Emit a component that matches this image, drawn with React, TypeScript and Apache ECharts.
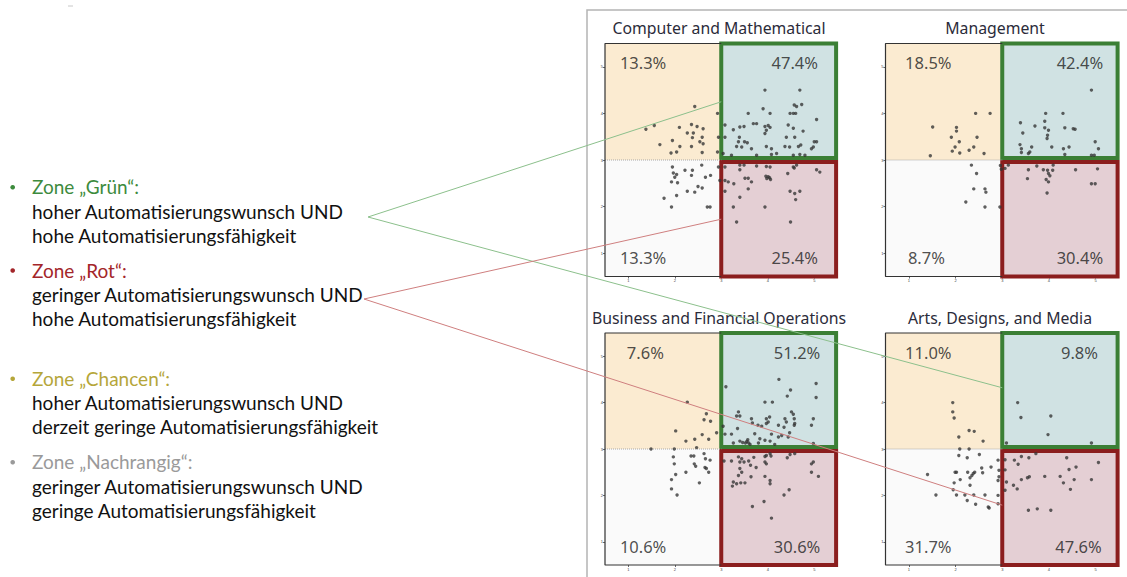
import React, { useEffect, useRef } from "react";
import * as echarts from "echarts";

// ---------------- data ----------------
const panelTitles = [
  "Computer and Mathematical",
  "Management",
  "Business and Financial Operations",
  "Arts, Designs, and Media",
];

// quadrant shares: [top-left, top-right, bottom-left, bottom-right]
const quadrantShares = [
  ["13.3%", "47.4%", "13.3%", "25.4%"],
  ["18.5%", "42.4%", "8.7%", "30.4%"],
  ["7.6%", "51.2%", "10.6%", "30.6%"],
  ["11.0%", "9.8%", "31.7%", "47.6%"],
];

const tickValues = [1, 2, 3, 4, 5];

const compMathPoints = [
  [2.43, 4.15], [1.38, 3.66], [1.56, 3.74], [2.1, 3.7], [2.36, 3.76], [2.48, 3.72], [2.61, 3.67], [1.68, 3.33],
  [1.95, 3.42], [2.27, 3.58], [2.4, 3.58], [2.38, 3.48], [2.59, 3.49], [2.54, 3.39], [2.61, 3.35], [2.11, 3.29],
  [2.36, 3.29], [1.92, 3.15], [2.04, 3.17], [2.59, 3.16], [2.92, 4.0], [2.94, 3.49], [2.92, 3.17],
  [3.94, 4.5], [4.69, 4.5], [4.57, 4.18], [4.62, 4.15], [4.73, 4.19], [3.9, 4.1], [3.58, 4.0], [4.05, 4.0],
  [4.48, 4.0], [4.55, 4.0], [4.6, 4.0], [5.05, 3.87], [3.08, 3.75], [3.26, 3.65], [3.4, 3.71], [3.49, 3.72],
  [3.69, 3.78], [3.76, 3.78], [3.94, 3.72], [4.01, 3.74], [4.05, 3.7], [3.97, 3.64], [4.44, 3.75], [4.55, 3.68],
  [4.76, 3.62], [3.08, 3.49], [3.39, 3.49], [3.94, 3.57], [4.4, 3.49], [4.58, 3.49], [5.0, 3.39], [5.05, 3.39],
  [3.37, 3.39], [3.5, 3.39], [3.56, 3.37], [3.33, 3.29], [3.44, 3.28], [3.65, 3.24], [3.97, 3.29], [4.08, 3.24],
  [4.37, 3.29], [4.47, 3.28], [4.66, 3.29], [4.71, 3.32], [4.94, 3.24], [4.98, 3.28], [3.04, 3.14], [3.22, 3.1],
  [3.76, 3.1], [4.08, 3.12], [4.19, 3.14], [4.55, 3.1], [4.69, 3.12], [4.8, 3.1],
  [1.95, 2.85], [2.58, 2.89], [1.97, 2.72], [2.04, 2.69], [2.0, 2.63], [2.22, 2.78], [2.38, 2.78], [2.36, 2.67],
  [2.66, 2.63], [2.77, 2.67], [1.93, 2.53], [2.06, 2.51], [2.5, 2.43], [2.59, 2.4], [2.27, 2.33], [2.43, 2.31],
  [2.04, 2.24], [1.77, 2.18], [1.93, 1.99], [2.7, 1.99], [2.76, 1.99], [2.94, 2.85], [2.97, 2.56],
  [3.08, 2.85], [3.4, 2.89], [3.49, 2.89], [3.76, 2.87], [3.97, 2.86], [4.05, 2.85], [4.55, 2.85], [4.62, 2.89],
  [5.05, 2.79], [5.12, 2.74], [3.08, 2.56], [3.15, 2.53], [3.27, 2.49], [3.4, 2.79], [3.51, 2.61], [3.58, 2.61],
  [3.65, 2.53], [3.96, 2.65], [4.01, 2.64], [4.04, 2.62], [3.98, 2.6], [4.06, 2.58], [4.43, 2.71], [4.57, 2.83],
  [3.08, 2.33], [3.4, 2.2], [3.58, 2.38], [3.26, 1.99], [3.94, 1.99], [4.48, 2.33], [4.58, 2.28], [4.69, 2.33],
  [4.6, 2.15], [3.33, 1.67], [4.49, 1.67],
];

const managementPoints = [
  [1.51, 3.71], [2.02, 3.7], [2.02, 3.62], [1.91, 3.49], [2.08, 3.39], [1.99, 3.28], [1.93, 3.19], [2.09, 3.15],
  [2.29, 3.21], [2.39, 3.28], [2.46, 3.49], [2.43, 4.0], [2.74, 4.0], [1.46, 3.09], [2.61, 3.14],
  [4.91, 4.5], [3.93, 4.0], [4.3, 4.0], [3.39, 3.8], [3.7, 3.73], [3.91, 3.83], [3.91, 3.69], [3.99, 3.64],
  [3.97, 3.53], [3.96, 3.46], [4.34, 3.69], [4.52, 3.67], [4.56, 3.66], [3.44, 3.58], [4.99, 3.39], [5.06, 3.24],
  [3.38, 3.33], [3.41, 3.24], [3.63, 3.28], [4.06, 3.28], [4.31, 3.24], [4.43, 3.28], [3.41, 3.16], [3.56, 3.14],
  [3.59, 3.17], [4.34, 3.12], [4.91, 3.1], [4.97, 3.1],
  [2.34, 2.89], [2.45, 2.71], [2.39, 2.38], [2.63, 2.38], [2.65, 2.31], [2.22, 2.1], [2.63, 1.99], [2.95, 1.99],
  [2.96, 2.88], [2.98, 2.8],
  [3.13, 2.89], [3.56, 2.79], [3.54, 2.6], [3.88, 2.79], [3.97, 2.78], [3.99, 2.71], [4.02, 2.66], [4.09, 2.89],
  [4.08, 2.78], [3.94, 2.58], [3.99, 2.53], [3.96, 2.29], [3.74, 2.87], [4.57, 2.79], [5.04, 2.81], [4.91, 2.49],
  [4.99, 2.49], [3.06, 2.82],
];

const businessPoints = [
  [2.27, 4.01], [2.68, 3.76], [2.63, 3.63], [2.77, 3.6], [2.02, 3.39], [2.24, 3.17], [2.43, 3.21], [2.59, 3.31],
  [2.73, 3.21], [2.9, 3.35], [1.49, 3.0], [1.99, 3.0], [2.47, 3.03],
  [3.1, 4.34], [4.24, 4.5], [5.04, 4.41], [5.04, 4.11], [4.49, 4.27], [4.42, 4.14], [3.94, 4.01], [4.1, 4.01],
  [3.37, 3.8], [3.4, 3.71], [3.33, 3.71], [3.65, 3.65], [3.67, 3.56], [3.79, 3.51], [3.87, 3.49], [3.97, 3.65],
  [4.01, 3.58], [3.97, 3.55], [4.04, 3.69], [4.23, 3.51], [4.37, 3.65], [4.4, 3.58], [4.35, 3.47], [4.51, 3.8],
  [4.55, 3.75], [4.57, 3.65], [4.58, 3.55], [4.57, 3.51], [4.98, 3.65], [4.94, 3.51], [3.04, 3.49], [3.35, 3.44],
  [3.08, 3.32], [3.22, 3.32], [3.4, 3.17], [3.46, 3.14], [3.52, 3.13], [3.59, 3.13], [3.57, 3.2], [3.72, 3.33],
  [3.83, 3.22], [3.94, 3.19], [4.05, 3.17], [4.08, 3.32], [4.23, 3.26], [4.3, 3.29], [4.44, 3.26], [4.47, 3.35],
  [4.98, 3.12], [3.8, 3.13], [3.26, 3.13], [3.55, 3.16], [3.62, 3.1], [4.15, 3.1],
  [1.97, 2.83], [1.99, 2.68], [2.35, 2.85], [2.41, 2.85], [2.42, 2.68], [2.45, 2.63], [2.63, 2.9], [2.66, 2.79],
  [2.76, 2.76], [2.65, 2.6], [2.68, 2.58], [2.73, 2.5], [2.24, 2.5], [2.02, 2.45], [1.93, 2.34], [1.93, 2.14],
  [2.05, 2.01], [2.53, 2.27],
  [3.06, 2.74], [3.22, 2.74], [3.4, 2.72], [3.49, 2.72], [3.59, 2.74], [3.63, 2.65], [3.37, 2.83], [3.44, 2.79],
  [3.94, 2.84], [3.97, 2.86], [4.05, 2.9], [4.07, 2.85], [3.94, 2.72], [3.97, 2.68], [4.48, 2.88], [4.58, 2.9],
  [4.42, 2.81], [4.94, 2.68], [4.98, 2.72], [5.09, 2.41], [4.94, 2.5], [3.4, 2.58], [3.44, 2.5], [3.37, 2.43],
  [3.26, 2.29], [3.33, 2.25], [3.42, 2.27], [3.51, 2.27], [3.24, 2.2], [3.64, 2.4], [3.94, 2.41], [4.05, 2.32],
  [4.05, 2.25], [4.35, 2.01], [4.46, 2.12], [3.92, 1.87], [3.67, 1.76], [4.08, 1.51], [3.75, 2.6], [3.7, 2.82],
];

const artsPoints = [
  [1.94, 4.0], [1.94, 3.8], [1.97, 3.67], [2.29, 3.4], [2.4, 3.38], [2.07, 3.26], [2.59, 3.17], [2.09, 3.0],
  [2.29, 3.0],
  [3.33, 4.0], [3.4, 3.68], [4.04, 3.71], [3.98, 3.31], [3.09, 3.13], [4.91, 3.13],
  [2.07, 2.86], [2.25, 2.81], [2.51, 2.88], [2.76, 2.61], [2.56, 2.59], [2.58, 2.49], [1.4, 2.45], [1.99, 2.5],
  [2.02, 2.5], [2.26, 2.5], [2.38, 2.47], [2.35, 2.43], [2.31, 2.38], [2.41, 2.5], [2.1, 2.34], [1.97, 2.27],
  [2.31, 2.22], [1.95, 2.12], [2.02, 2.01], [1.58, 2.01], [2.2, 2.01], [2.39, 2.01], [2.63, 2.01], [2.25, 1.89],
  [2.43, 1.81], [2.7, 1.75], [2.72, 1.73], [2.91, 2.76], [2.93, 2.54], [2.93, 2.4], [2.91, 2.32], [2.91, 2.0],
  [2.91, 1.82],
  [3.06, 2.77], [3.26, 2.76], [3.34, 2.67], [3.41, 2.84], [3.57, 2.81], [3.72, 2.9], [3.09, 2.29], [3.24, 2.22],
  [3.32, 2.14], [3.41, 2.34], [3.54, 2.38], [3.58, 2.4], [3.06, 2.11], [3.91, 2.41], [4.24, 2.41], [4.31, 2.27],
  [4.43, 2.56], [4.58, 2.61], [4.38, 2.81], [4.54, 2.34], [4.46, 2.13], [4.91, 2.34], [5.06, 2.71], [3.56, 1.68],
  [3.75, 1.71], [4.04, 1.68], [3.06, 2.55],
];

const panelPoints = [compMathPoints, managementPoints, businessPoints, artsPoints];

const zoneTitles = ["Zone „Grün“:", "Zone „Rot“:", "Zone „Chancen“:", "Zone „Nachrangig“:"];
const zoneLines = [
  ["hoher Automatisierungswunsch UND", "hohe Automatisierungsfähigkeit"],
  ["geringer Automatisierungswunsch UND", "hohe Automatisierungsfähigkeit"],
  ["hoher Automatisierungswunsch UND", "derzeit geringe Automatisierungsfähigkeit"],
  ["geringer Automatisierungswunsch UND", "geringe Automatisierungsfähigkeit"],
];

// ---------------- layout / style ----------------
const GRIDS = [
  { left: 605, top: 43.5, width: 232.5, height: 233 },
  { left: 885.5, top: 43.5, width: 233.5, height: 233 },
  { left: 605, top: 333, width: 232.5, height: 232 },
  { left: 885.5, top: 333, width: 233.5, height: 232 },
];
const TITLE_POS = [[719, 28], [995, 28], [719, 318], [1000, 318]];
// x positions (data units) of the share labels: [TL, TR, BL, BR]
const LABEL_X = [
  [0.82, 5.08, 0.82, 5.08],
  [0.92, 5.16, 0.98, 5.16],
  [0.97, 5.13, 0.82, 5.13],
  [0.92, 5.05, 0.92, 5.13],
];
const LABEL_Y_TOP = 5.09;
const LABEL_Y_BOTTOM = 0.9;
const ZONE_COLORS = ["#3d8b3d", "#a3262a", "#b5a63a", "#9a9a9a"];
const ZONE_Y = [186.7, 270, 378.3, 461.7];
const LINE_GAP = 24.3;

const C_ORANGE = "#fbebd1";
const C_GREY = "#fafafa";
const C_BLUE = "#d0e2e3";
const C_PINK = "#e4cfd4";
const C_GREEN = "#3b7f35";
const C_RED = "#8b1e1e";

function buildOption() {
  const grid = GRIDS.map((g) => ({ ...g, show: false, containLabel: false }));
  const axisCommon = {
    type: "value",
    min: 0.5,
    max: 5.5,
    splitLine: { show: false },
    axisLine: { show: false },
    axisTick: { show: true, length: 2, customValues: tickValues, lineStyle: { color: "#444", width: 0.8 } },
    axisLabel: { show: true, fontSize: 4, color: "#444", margin: 2, customValues: tickValues },
  };
  const xAxis = GRIDS.map((_, i) => ({ ...axisCommon, gridIndex: i }));
  const yAxis = GRIDS.map((_, i) => ({ ...axisCommon, gridIndex: i }));

  const series: any[] = [];
  panelPoints.forEach((pts, i) => {
    series.push({
      type: "scatter",
      xAxisIndex: i,
      yAxisIndex: i,
      data: pts,
      symbolSize: 3.4,
      itemStyle: { color: "#333", opacity: 0.78 },
      silent: true,
      clip: false,
      z: 3,
      markArea: {
        silent: true,
        data: [
          [{ xAxis: 0.5, yAxis: 3, itemStyle: { color: C_ORANGE } }, { xAxis: 3, yAxis: 5.5 }],
          [{ xAxis: 0.5, yAxis: 0.5, itemStyle: { color: C_GREY } }, { xAxis: 3, yAxis: 3 }],
          [
            { xAxis: 3, yAxis: 0.5, itemStyle: { color: C_PINK, borderColor: C_RED, borderWidth: 4 } },
            { xAxis: 5.47, yAxis: 2.955 },
          ],
          [
            { xAxis: 3, yAxis: 3.045, itemStyle: { color: C_BLUE, borderColor: C_GREEN, borderWidth: 4 } },
            { xAxis: 5.47, yAxis: 5.5 },
          ],
        ],
      },
    });
    // quadrant separator on the left half
    series.push({
      type: "line",
      xAxisIndex: i,
      yAxisIndex: i,
      data: [[0.5, 3], [3, 3]],
      symbol: "none",
      silent: true,
      lineStyle: { color: "#a8a8a8", width: 1, type: "dotted" },
      z: 2,
    });
    // plot frame (left part)
    series.push({
      type: "line",
      xAxisIndex: i,
      yAxisIndex: i,
      data: [[3, 5.5], [0.5, 5.5], [0.5, 0.5], [3, 0.5]],
      symbol: "none",
      silent: true,
      clip: false,
      lineStyle: { color: "#333", width: 1.2 },
      z: 4,
    });
    // share labels
    const shares = quadrantShares[i];
    const lx = LABEL_X[i];
    const ys = [LABEL_Y_TOP, LABEL_Y_TOP, LABEL_Y_BOTTOM, LABEL_Y_BOTTOM];
    series.push({
      type: "scatter",
      xAxisIndex: i,
      yAxisIndex: i,
      symbolSize: 0,
      silent: true,
      clip: false,
      z: 6,
      data: shares.map((s, k) => ({
        value: [lx[k], ys[k]],
        label: {
          show: true,
          formatter: s,
          position: [0, 0],
          align: k % 2 === 0 ? "left" : "right",
          verticalAlign: "middle",
          fontSize: 16.5,
          color: "#222",
          fontFamily: "Noto Sans",
        },
      })),
    });
  });

  return {
    animation: false,
    backgroundColor: "#ffffff",
    grid,
    xAxis,
    yAxis,
    series,
  };
}

export default function App() {
  const ref = useRef<HTMLDivElement>(null);
  useEffect(() => {
    if (!ref.current) return;
    const chart = echarts.init(ref.current, null, { renderer: "svg" });
    chart.setOption(buildOption());

    const px = (g: number, pt: number[]) => chart.convertToPixel({ gridIndex: g } as any, pt) as number[];
    const elements: any[] = [];

    // outer frame
    elements.push({
      type: "polyline",
      shape: { points: [[1127, 10], [587, 10], [587, 577]] },
      style: { stroke: "#b4b4b4", lineWidth: 1.5, fill: null },
      silent: true,
      z: 10,
    });
    elements.push({
      type: "line",
      shape: { x1: 68, y1: 6, x2: 73, y2: 6 },
      style: { stroke: "#c8c8c8", lineWidth: 1 },
      silent: true,
    });

    // panel titles
    panelTitles.forEach((t, i) => {
      elements.push({
        type: "text",
        x: TITLE_POS[i][0],
        y: TITLE_POS[i][1],
        silent: true,
        z: 10,
        style: {
          text: t,
          fill: "#2b2b3a",
          font: "15.8px 'Noto Sans'",
          textAlign: "center",
          textVerticalAlign: "middle",
        },
      });
    });

    // zone legend text
    zoneTitles.forEach((t, i) => {
      const y0 = ZONE_Y[i];
      elements.push({
        type: "circle",
        shape: { cx: 12.7, cy: y0 + 0.5, r: 2.3 },
        style: { fill: ZONE_COLORS[i] },
        silent: true,
      });
      elements.push({
        type: "text",
        x: 32,
        y: y0,
        silent: true,
        style: { text: t, fill: ZONE_COLORS[i], font: "19px Lato", textVerticalAlign: "middle" },
      });
      zoneLines[i].forEach((l, k) => {
        elements.push({
          type: "text",
          x: 32,
          y: y0 + LINE_GAP * (k + 1),
          silent: true,
          style: { text: l, fill: "#111", font: "19px Lato", textVerticalAlign: "middle" },
        });
      });
    });

    // connector lines from legend to the zones
    const greenVertex = [368, 217];
    const redVertex = [364, 299];
    const g1 = px(0, [3, 4.25]);
    const g2 = px(3, [3, 4.32]);
    const r1 = px(0, [3, 1.73]);
    const r2 = px(3, [3, 1.79]);
    [[greenVertex, g1, "#8cc08c"], [greenVertex, g2, "#8cc08c"], [redVertex, r1, "#cf7f7f"], [redVertex, r2, "#cf7f7f"]].forEach(
      ([a, b, c]: any) => {
        elements.push({
          type: "line",
          shape: { x1: a[0], y1: a[1], x2: b[0], y2: b[1] },
          style: { stroke: c, lineWidth: 1 },
          silent: true,
          z: 20,
        });
      }
    );

    chart.setOption({ graphic: { elements } });
    return () => chart.dispose();
  }, []);

  return (
    <div
      ref={ref}
      style={{ position: "fixed", left: 0, top: 0, width: 1127, height: 577, background: "#fff" }}
    />
  );
}
